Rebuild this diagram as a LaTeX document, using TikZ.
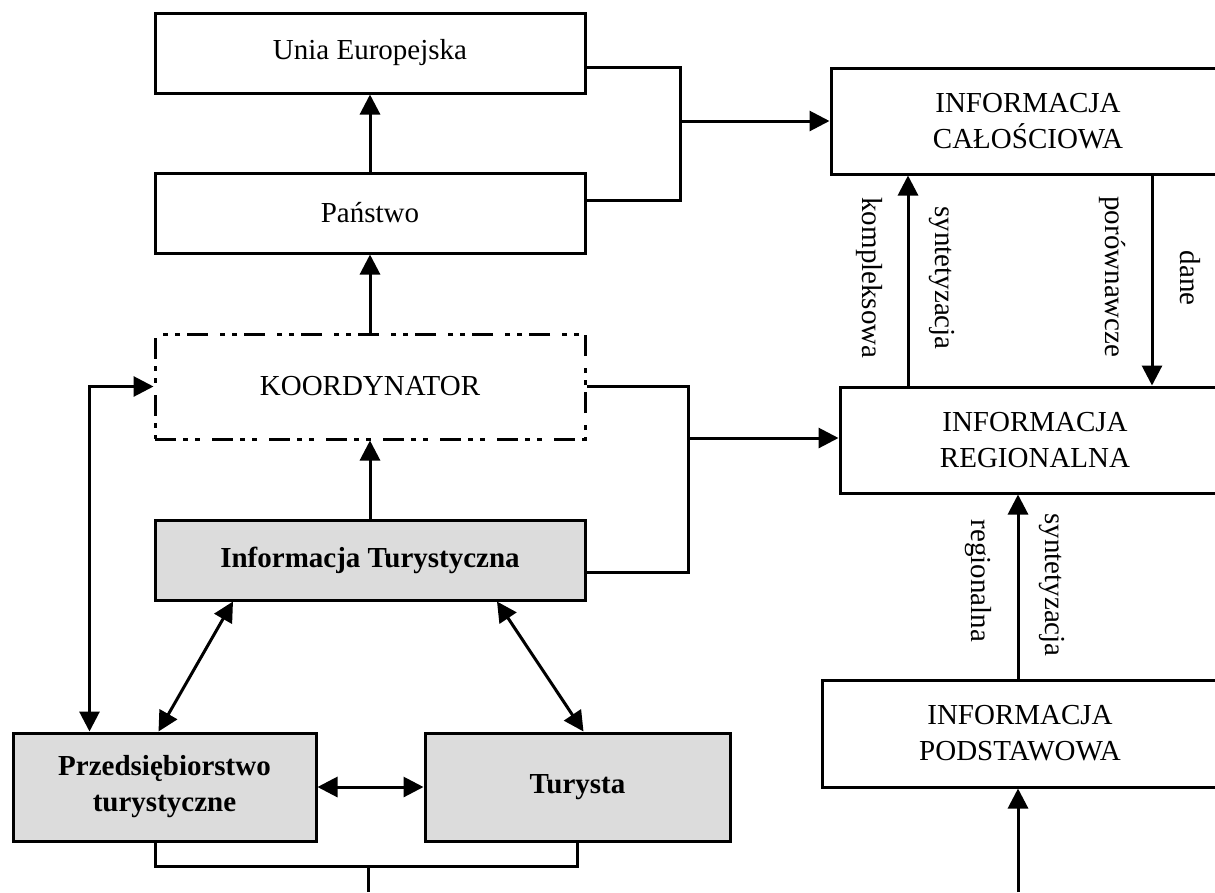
\documentclass[tikz,border=0pt]{standalone}
\usepackage{fontspec}
\setmainfont{Liberation Serif}
\usetikzlibrary{arrows.meta}
\definecolor{szary}{RGB}{220,220,220}

\begin{document}
\begin{tikzpicture}[x=1pt,y=-1pt,line width=3pt,
  >={Triangle[length=20pt,width=20pt]},
  blok/.style={draw, align=center, inner sep=0pt, minimum width=430pt, minimum height=80pt,
    font=\fontsize{29}{36}\selectfont},
  szaryblok/.style={blok, fill=szary, font=\fontsize{29}{36}\selectfont\bfseries},
  opis/.style={rotate=-90, inner sep=0pt, font=\fontsize{29}{36}\selectfont}]

\useasboundingbox (0,0) rectangle (1215,892);
\clip (0,0) rectangle (1215,892);

% Lewa kolumna
\node[blok] (unia) at (370,53) {Unia Europejska};
\node[blok] (panstwo) at (370,213) {Państwo};
\node[blok, minimum height=105pt, dash pattern=on 21pt off 7pt on 5pt off 7pt on 5pt off 12pt] (koord) at (370,386.5) {KOORDYNATOR};
\node[szaryblok] (info) at (370,560) {Informacja Turystyczna};
\node[szaryblok, minimum width=303pt, minimum height=108pt] (przeds) at (164.5,787) {Przedsiębiorstwo\\turystyczne};
\node[szaryblok, minimum width=305pt, minimum height=108pt] (turysta) at (577.5,787) {Turysta};

% Prawa kolumna
\node[blok, minimum width=394pt, minimum height=106pt] (calosc) at (1028,121) {INFORMACJA\\CAŁOŚCIOWA};
\node[blok, minimum width=390pt, minimum height=106pt] (region) at (1035,440) {INFORMACJA\\REGIONALNA};
\node[blok, minimum width=396pt, minimum height=107pt] (podst) at (1020,733.5) {INFORMACJA\\PODSTAWOWA};

\coordinate (j1) at (680,121);
\coordinate (j2) at (688,438);
\coordinate (j3) at (368,866);
\coordinate (dol) at (368,892);
\coordinate (dol2) at (1018,892);
\coordinate (xa) at (908,0);
\coordinate (xb) at (1152,0);
\coordinate (xc) at (1018,0);

% Strzalki w gore
\draw[->] (panstwo) -- (unia);
\draw[->] (koord) -- (panstwo);
\draw[->] (info) -- (koord);

% Polaczenia do informacji
\draw ([yshift=-14pt]unia.east) -| (j1) |- ([yshift=13pt]panstwo.east);
\draw[->] (j1) -- (calosc.west |- j1);
\draw (koord.east) -| (j2) |- ([yshift=-12pt]info.east);
\draw[->] (j2) -- (region.west |- j2);

% Turystyka
\draw[<->] (koord.west) -| ([xshift=-75pt]przeds.north);
\draw[<->] ([xshift=-137pt]info.south) -- ([xshift=-6pt]przeds.north);
\draw[<->] ([xshift=127pt]info.south) -- ([xshift=6pt]turysta.north);
\draw[<->] (przeds.east) -- (turysta.west);
\draw ([xshift=-9pt]przeds.south) |- (j3) -| (turysta.south);
\draw (j3) -- (dol);

% Strzalki po prawej
\draw[->] (region.north -| xa) -- (calosc.south -| xa);
\draw[->] (calosc.south -| xb) -- (region.north -| xb);
\draw[->] (podst.north -| xc) -- (region.south -| xc);
\draw[->] (dol2) -- (podst.south -| xc);

\node[opis] (o1) at (869,278) {kompleksowa};
\node[opis] (o2) at (942,278) {syntetyzacja};
\node[opis] (o3) at (1112,277) {porównawcze};
\node[opis] (o4) at (1190,278) {dane};
\node[opis] (o5) at (978,581) {regionalna};
\node[opis] (o6) at (1052,585) {syntetyzacja};
\end{tikzpicture}
\end{document}
